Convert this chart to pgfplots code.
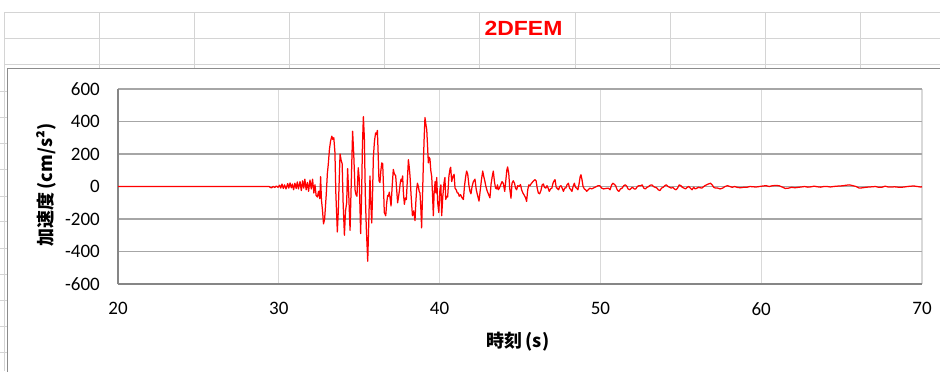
\documentclass[border=0pt]{standalone}
\usepackage{pgfplots}
\pgfplotsset{compat=1.18}
\usepackage{fontspec}
\setmainfont{Carlito}
\newfontfamily\cjk{Noto Sans CJK JP}
\newfontfamily\arialf{Liberation Sans}
\definecolor{hgrid}{RGB}{166,166,166}
\definecolor{vgrid}{RGB}{217,217,217}
\definecolor{axc}{RGB}{134,134,134}
\definecolor{sheet}{RGB}{212,212,212}
\definecolor{cborder}{RGB}{140,140,140}
\begin{document}
\begin{tikzpicture}[x=1bp,y=1bp]
\useasboundingbox (0,0) rectangle (940,371);
\clip (0,0) rectangle (940,371);
\fill[white] (0,0) rectangle (940,371);
% spreadsheet grid
\foreach \yy in {358.3,332.7,306.7} \draw[sheet,line width=1.2bp] (4,\yy) -- (940,\yy);
\foreach \xx in {4.2,99.4,194.6,289.8,384.6,479.5,575.2,670.2,765.4,860.6} \draw[sheet,line width=1.2bp] (\xx,358.3) -- (\xx,303);
\draw[sheet,line width=1.2bp] (4.2,303) -- (4.2,0);
\foreach \yy in {279.3,253.3,227.7,201.7,175,149.3,122.7,97,71,44.3,18.3} \draw[sheet,line width=1bp] (0,\yy) -- (7,\yy);
% chart border
\draw[cborder,line width=1bp] (7,-5) -- (7,303) -- (945,303);
% title
\node[anchor=base,inner sep=0pt,text=red,xscale=1.12] at (523.5,335.8) {\arialf\bfseries\fontsize{20.5bp}{24bp}\selectfont 2DFEM};
% axis labels
\node[rotate=90,inner sep=0pt] at (46,186) {\cjk\bfseries\fontsize{18bp}{20bp}\selectfont 加速度\,(cm/s²)};
\node[inner sep=0pt] at (518,29) {\cjk\bfseries\fontsize{18bp}{20bp}\selectfont 時刻\,(s)};
\begin{axis}[
  at={(118bp,87bp)}, anchor=south west,
  width=804bp, height=195bp, scale only axis,
  xmin=20, xmax=70, ymin=-600, ymax=600,
  enlargelimits=false,
  xtick={20,30,40,50,60,70},
  xticklabels={20,30,40,50,60,70},
  ytick={-600,-400,-200,0,200,400,600},
  yticklabels={-600,-400,-200,0,200,400,600},
  major tick length=0pt,
  grid=major,
  x grid style={vgrid,line width=1.2bp},
  y grid style={hgrid,line width=1.2bp},
  axis x line*=bottom, axis y line*=left,
  axis line style={axc,line width=1.2bp,-},
  tick label style={font=\fontsize{19bp}{22bp}\selectfont, inner sep=0pt},
  yticklabel style={anchor=east, xshift=-18bp},
  xticklabel style={anchor=north, yshift=-18bp},
]
\addplot[red, line width=1.25bp, line join=round] table {
t a
20 0
29.4 0
29.45 -5
29.55 -8
29.65 0
29.75 -6
29.85 3
29.95 -5
30.05 8
30.12 -10
30.2 15
30.28 -12
30.36 10
30.45 -15
30.55 18
30.62 -10
30.70 22
30.78 -8
30.85 15
30.92 -20
31.0 20
31.08 -12
31.15 28
31.22 -15
31.32 30
31.40 -25
31.48 35
31.55 -10
31.62 45
31.70 -20
31.78 25
31.85 -30
31.94 40
32.02 -15
32.10 45
32.18 -40
32.25 10
32.32 -55
32.40 -65
32.47 -30
32.55 -75
32.60 60
32.65 -80
32.72 -150
32.78 -230
32.85 -200
32.95 -50
33.02 80
33.08 140
33.15 230
33.22 280
33.30 310
33.35 290
33.42 300
33.49 210
33.55 -50
33.64 -280
33.70 -150
33.76 50
33.81 200
33.88 160
33.94 140
34.0 -100
34.08 -300
34.15 -150
34.22 -100
34.28 110
34.35 -50
34.43 -270
34.5 0
34.59 340
34.66 200
34.74 -20
34.80 -50
34.86 -60
34.94 115
35.0 50
35.09 -290
35.15 -50
35.20 250
35.26 430
35.32 300
35.38 -50
35.44 -250
35.53 -460
35.60 -200
35.67 65
35.72 -100
35.78 -225
35.83 -50
35.88 180
35.95 280
36.02 330
36.08 320
36.13 345
36.18 200
36.23 35
36.29 25
36.35 100
36.40 145
36.46 140
36.51 0
36.56 -160
36.65 -180
36.71 -100
36.77 -55
36.82 -60
36.87 -35
36.92 -70
36.98 -120
37.05 0
37.12 105
37.18 80
37.27 65
37.33 -20
37.39 -100
37.45 -60
37.50 -25
37.55 20
37.60 45
37.65 30
37.70 65
37.75 -40
37.81 -110
37.87 -70
37.93 -80
38.0 50
38.06 165
38.11 120
38.16 65
38.23 -60
38.31 -180
38.39 -150
38.47 -210
38.52 -100
38.57 -20
38.62 20
38.68 0
38.73 -30
38.78 -40
38.84 -150
38.88 -255
38.94 -50
38.99 145
39.04 300
39.09 425
39.15 380
39.20 350
39.25 250
39.30 145
39.35 180
39.40 170
39.45 100
39.51 60
39.56 -50
39.61 -180
39.66 -40
39.72 30
39.77 -40
39.82 55
39.88 -100
39.95 -160
40.02 -20
40.08 10
40.13 -180
40.20 -60
40.27 20
40.33 55
40.38 -80
40.45 -60
40.50 -65
40.58 65
40.65 110
40.69 118
40.75 30
40.82 60
40.90 75
40.96 -10
41.03 -20
41.10 -40
41.16 -40
41.22 -60
41.30 -50
41.40 -70
41.48 -80
41.55 5
41.62 60
41.68 95
41.75 75
41.82 10
41.89 -30
41.95 -45
42.02 0
42.10 30
42.20 45
42.28 -20
42.35 -50
42.45 -90
42.52 -30
42.60 40
42.68 95
42.75 60
42.82 30
42.88 0
42.95 -25
43.05 -50
43.13 -70
43.20 15
43.27 60
43.34 95
43.41 30
43.48 -10
43.55 -15
43.60 10
43.65 -20
43.72 -10
43.80 10
43.88 30
43.96 20
44.05 -30
44.12 40
44.18 100
44.23 120
44.30 80
44.37 -20
44.44 -72
44.50 20
44.58 35
44.66 20
44.72 -10
44.79 -20
44.86 5
44.95 0
45.03 12
45.10 -20
45.18 -40
45.27 -55
45.35 -70
45.41 -92
45.48 -20
45.55 10
45.62 5
45.70 18
45.80 30
45.93 42
46.0 35
46.07 -10
46.14 -40
46.22 -45
46.30 -25
46.38 10
46.45 16
46.52 -5
46.60 -10
46.68 5
46.75 -10
46.82 -30
46.90 -15
46.98 -10
47.05 20
47.12 35
47.18 42
47.25 -5
47.32 -12
47.40 -20
47.47 0
47.55 5
47.62 -10
47.70 -30
47.78 -10
47.85 -10
47.92 10
48.01 20
48.08 -10
48.16 -20
48.23 -30
48.30 0
48.38 20
48.45 -5
48.52 -10
48.60 -20
48.68 20
48.74 60
48.79 72
48.85 45
48.92 0
49.0 -15
49.08 -20
49.15 -30
49.25 -20
49.35 -10
49.45 -15
49.56 -10
49.66 -5
49.76 0
49.86 5
49.96 5
50.08 -10
50.2 -15
50.35 -12
50.49 -10
50.60 -20
50.70 10
50.77 20
50.85 15
50.95 5
51.02 -15
51.08 -25
51.15 -30
51.25 -15
51.35 -10
51.45 5
51.55 10
51.65 0
51.72 -15
51.82 -20
51.92 -10
52.0 -5
52.10 -15
52.20 -15
52.30 0
52.40 5
52.50 5
52.60 10
52.70 -10
52.80 -15
52.90 -5
53.0 0
53.10 8
53.20 10
53.30 0
53.40 -5
53.50 -8
53.60 -20
53.70 -25
53.80 -10
53.90 -5
54.0 5
54.10 10
54.20 0
54.30 -5
54.40 -10
54.50 -5
54.60 -15
54.70 -20
54.80 -10
54.90 10
55.00 5
55.10 -5
55.20 -10
55.30 -15
55.40 -5
55.50 0
55.60 -10
55.70 -20
55.80 -5
55.90 -15
56.0 -10
56.10 -5
56.30 -10
56.50 5
56.70 15
56.85 20
56.95 10
57.05 -5
57.15 -10
57.30 -10
57.45 -15
57.60 -10
57.75 0
57.90 5
58.05 0
58.20 -5
58.35 0
58.50 -5
58.70 -8
58.90 -5
59.10 -5
59.30 0
59.50 -2
59.70 -3
59.90 0
60.10 3
60.30 5
60.50 0
60.70 5
60.90 6
61.10 5
61.30 -3
61.50 -12
61.70 -10
61.90 -5
62.10 -8
62.30 -5
62.50 -3
62.70 0
62.90 -4
63.10 -2
63.30 2
63.50 -2
63.70 -4
63.90 0
64.10 0
64.30 -3
64.50 0
64.70 2
64.90 3
65.1 5
65.3 8
65.5 10
65.7 5
65.9 0
66.1 -10
66.3 -8
66.5 -5
66.7 -3
66.9 -2
67.1 0
67.3 -5
67.5 -5
67.7 2
67.9 -3
68.1 -3
68.3 -2
68.5 -4
68.7 -5
68.9 -3
69.1 0
69.3 2
69.5 3
69.7 0
69.9 -3
70 -2
};
\end{axis}
\end{tikzpicture}
\end{document}
